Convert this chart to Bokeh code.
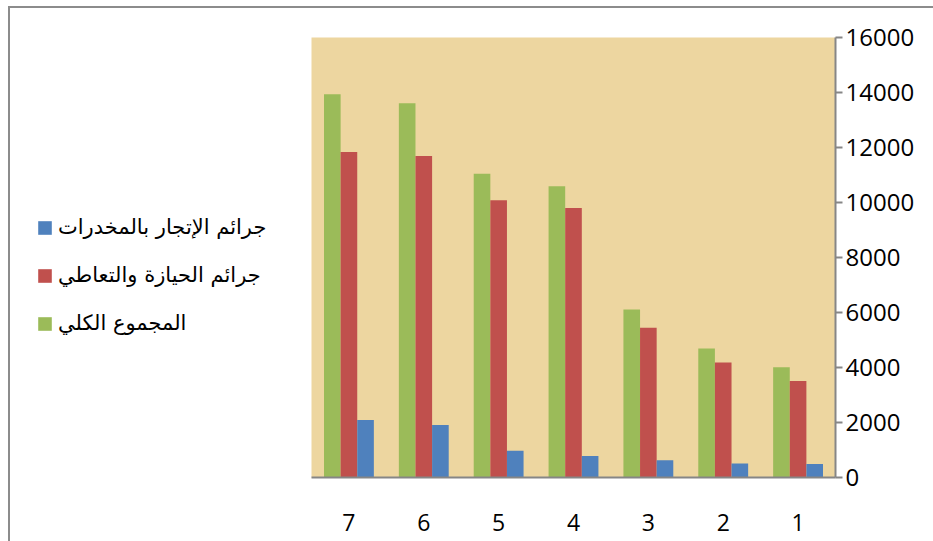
from bokeh.plotting import figure
from bokeh.models import FactorRange, Range1d, FixedTicker, Legend, LegendItem, ColumnDataSource
from bokeh.layouts import row
from bokeh.transform import dodge
from bokeh.embed import file_html
from bokeh.resources import INLINE

categories = ["7", "6", "5", "4", "3", "2", "1"]
trafficking = [2090, 1910, 970, 780, 630, 510, 490]      # جرائم الإتجار بالمخدرات
possession = [11840, 11690, 10080, 9800, 5450, 4180, 3510]  # جرائم الحيازة والتعاطي
total = [13940, 13610, 11050, 10590, 6110, 4690, 4010]     # المجموع الكلي
series_names = ["جرائم الإتجار بالمخدرات", "جرائم الحيازة والتعاطي", "المجموع الكلي"]
y_ticks = [0, 2000, 4000, 6000, 8000, 10000, 12000, 14000, 16000]
colors = {"t": "#4F81BD", "p": "#C0504D", "g": "#9BBB59"}

src = ColumnDataSource(dict(cat=categories, t=trafficking, p=possession, g=total))

H = 533
bw = 0.222

# main chart
p = figure(x_range=FactorRange(*categories), y_range=Range1d(0, 16000),
           width=622, height=H, output_backend="svg", toolbar_location=None,
           y_axis_location="right", min_border_left=0, min_border_top=29,
           min_border_right=98, min_border_bottom=64)
p.background_fill_color = "#EDD6A0"
p.border_fill_color = "white"
p.outline_line_color = None
p.grid.grid_line_color = None

p.vbar(x=dodge("cat", -bw, range=p.x_range), top="g", width=bw, source=src,
       fill_color=colors["g"], line_color=None)
p.vbar(x=dodge("cat", 0, range=p.x_range), top="p", width=bw, source=src,
       fill_color=colors["p"], line_color=None)
p.vbar(x=dodge("cat", bw, range=p.x_range), top="t", width=bw, source=src,
       fill_color=colors["t"], line_color=None)

p.yaxis.ticker = FixedTicker(ticks=y_ticks)
p.yaxis.minor_tick_line_color = None
p.yaxis.major_tick_in = 0
p.yaxis.major_tick_out = 7
p.yaxis.major_tick_line_color = "#868686"
p.yaxis.major_tick_line_width = 2
p.yaxis.axis_line_color = "#868686"
p.yaxis.axis_line_width = 2
p.yaxis.major_label_standoff = 3
p.yaxis.major_label_text_font = "Open Sans"
p.yaxis.major_label_text_font_size = "24px"
p.yaxis.major_label_text_color = "black"

p.xaxis.major_tick_line_color = None
p.xaxis.minor_tick_line_color = None
p.xaxis.axis_line_color = "#868686"
p.xaxis.axis_line_width = 2
p.xaxis.major_label_standoff = 30
p.xaxis.major_label_text_font = "Open Sans"
p.xaxis.major_label_text_font_size = "23px"
p.xaxis.major_label_text_color = "black"

# legend panel (left side)
lf = figure(x_range=FactorRange(*categories), y_range=Range1d(-2, -1),
            width=301, height=H, output_backend="svg", toolbar_location=None,
            min_border=0, x_axis_type=None, y_axis_type=None)
lf.outline_line_color = None
lf.grid.grid_line_color = None
lf.background_fill_color = "white"
lg = lf.vbar(x="cat", top="g", width=bw, source=src, fill_color=colors["g"], line_color=None, visible=False)
lr = lf.vbar(x="cat", top="p", width=bw, source=src, fill_color=colors["p"], line_color=None, visible=False)
lb = lf.vbar(x="cat", top="t", width=bw, source=src, fill_color=colors["t"], line_color=None, visible=False)

legend = Legend(items=[LegendItem(label=series_names[0], renderers=[lb]),
                       LegendItem(label=series_names[1], renderers=[lr]),
                       LegendItem(label=series_names[2], renderers=[lg])],
                location=(26, 142))
legend.margin = 0
legend.padding = 0
legend.border_line_color = None
legend.background_fill_alpha = 0
legend.inactive_fill_alpha = 0
legend.glyph_width = 17
legend.glyph_height = 17
legend.label_height = 24
legend.spacing = 24
legend.label_standoff = 5
legend.label_text_font = "DejaVu Sans"
legend.label_text_font_size = "21px"
legend.label_text_color = "black"
lf.add_layout(legend, "center")

layout = row(lf, p, spacing=0)
layout.styles = {"border-left": "2px solid #8c8c8c", "border-top": "2px solid #8c8c8c",
                 "margin-left": "8px", "margin-top": "6px"}

open("out.html", "w").write(file_html(layout, INLINE))
